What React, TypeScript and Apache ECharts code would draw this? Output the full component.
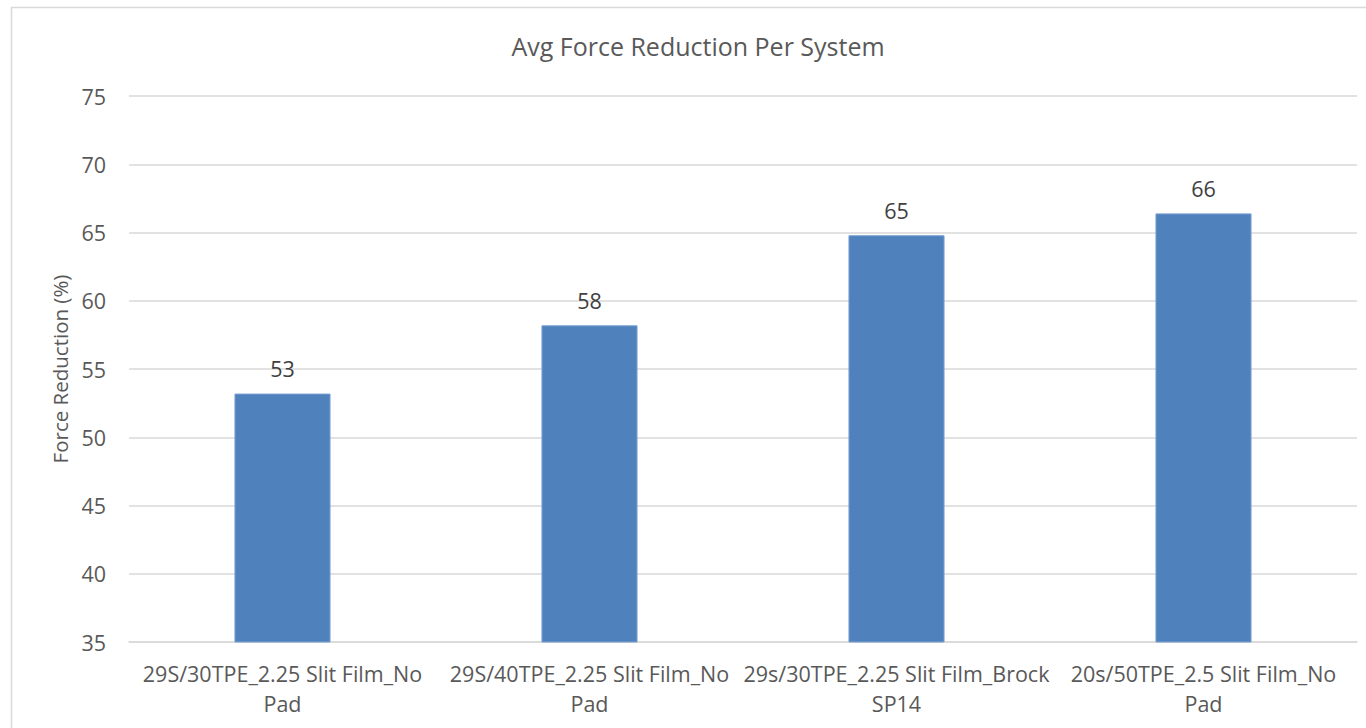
import React, { useEffect, useRef } from "react";
import * as echarts from "echarts";

const categories = [
  "29S/30TPE_2.25 Slit Film_No Pad",
  "29S/40TPE_2.25 Slit Film_No Pad",
  "29s/30TPE_2.25 Slit Film_Brock SP14",
  "20s/50TPE_2.5 Slit Film_No Pad",
];
const values = [53.2, 58.2, 64.8, 66.4];
const yMin = 35;
const yMax = 75;
const yStep = 5;
const titleText = "Avg Force Reduction Per System";
const yName = "Force Reduction (%)";

export default function App() {
  const ref = useRef<HTMLDivElement>(null);
  useEffect(() => {
    if (!ref.current) return;
    const chart = echarts.init(ref.current, null, { renderer: "svg" });
    const font = "'Open Sans', 'Noto Sans', sans-serif";
    chart.setOption({
      animation: false,
      backgroundColor: "#ffffff",
      textStyle: { fontFamily: font },
      graphic: [
        {
          type: "rect",
          shape: { x: 11.5, y: 7.5, width: 1400, height: 800 },
          style: { fill: "none", stroke: "#d9d9d9", lineWidth: 1.5 },
          silent: true,
        },
        {
          type: "text",
          x: 698,
          y: 46,
          style: {
            text: titleText,
            fontFamily: font,
            fontSize: 25,
            fill: "#595959",
            textAlign: "center",
            textVerticalAlign: "middle",
            verticalAlign: "middle",
          },
          silent: true,
        },
      ],
      grid: { left: 129, right: 9, top: 96, bottom: 86, containLabel: false },
      xAxis: {
        type: "category",
        data: categories,
        axisLine: { show: true, lineStyle: { color: "#d9d9d9", width: 1.5 } },
        axisTick: { show: false },
        axisLabel: {
          interval: 0,
          margin: 16,
          fontFamily: font,
          fontSize: 21.5,
          lineHeight: 30,
          color: "#595959",
          formatter: (v: string) => {
            const i = v.lastIndexOf(" ");
            return i > 0 ? v.slice(0, i) + "\n" + v.slice(i + 1) : v;
          },
        },
      },
      yAxis: {
        type: "value",
        min: yMin,
        max: yMax,
        interval: yStep,
        name: yName,
        nameLocation: "middle",
        nameGap: 57,
        nameRotate: 90,
        nameTextStyle: { fontFamily: font, fontSize: 20.5, color: "#595959" },
        axisLine: { show: false },
        axisTick: { show: false },
        axisLabel: { fontFamily: font, fontSize: 21.5, color: "#595959", margin: 23 },
        splitLine: { show: true, lineStyle: { color: "#d9d9d9", width: 1.5 } },
      },
      series: [
        {
          type: "bar",
          data: values,
          barWidth: "31.3%",
          itemStyle: { color: "#4f81bd", borderColor: "#7aa0cf", borderWidth: 1 },
          label: {
            show: true,
            position: "top",
            distance: 14,
            fontFamily: font,
            fontSize: 21.5,
            color: "#404040",
            formatter: (p: any) => String(Math.round(p.value)),
          },
        },
      ],
    });
    return () => chart.dispose();
  }, []);
  return (
    <div
      ref={ref}
      style={{ position: "fixed", left: 0, top: 0, width: 1366, height: 728 }}
    />
  );
}
